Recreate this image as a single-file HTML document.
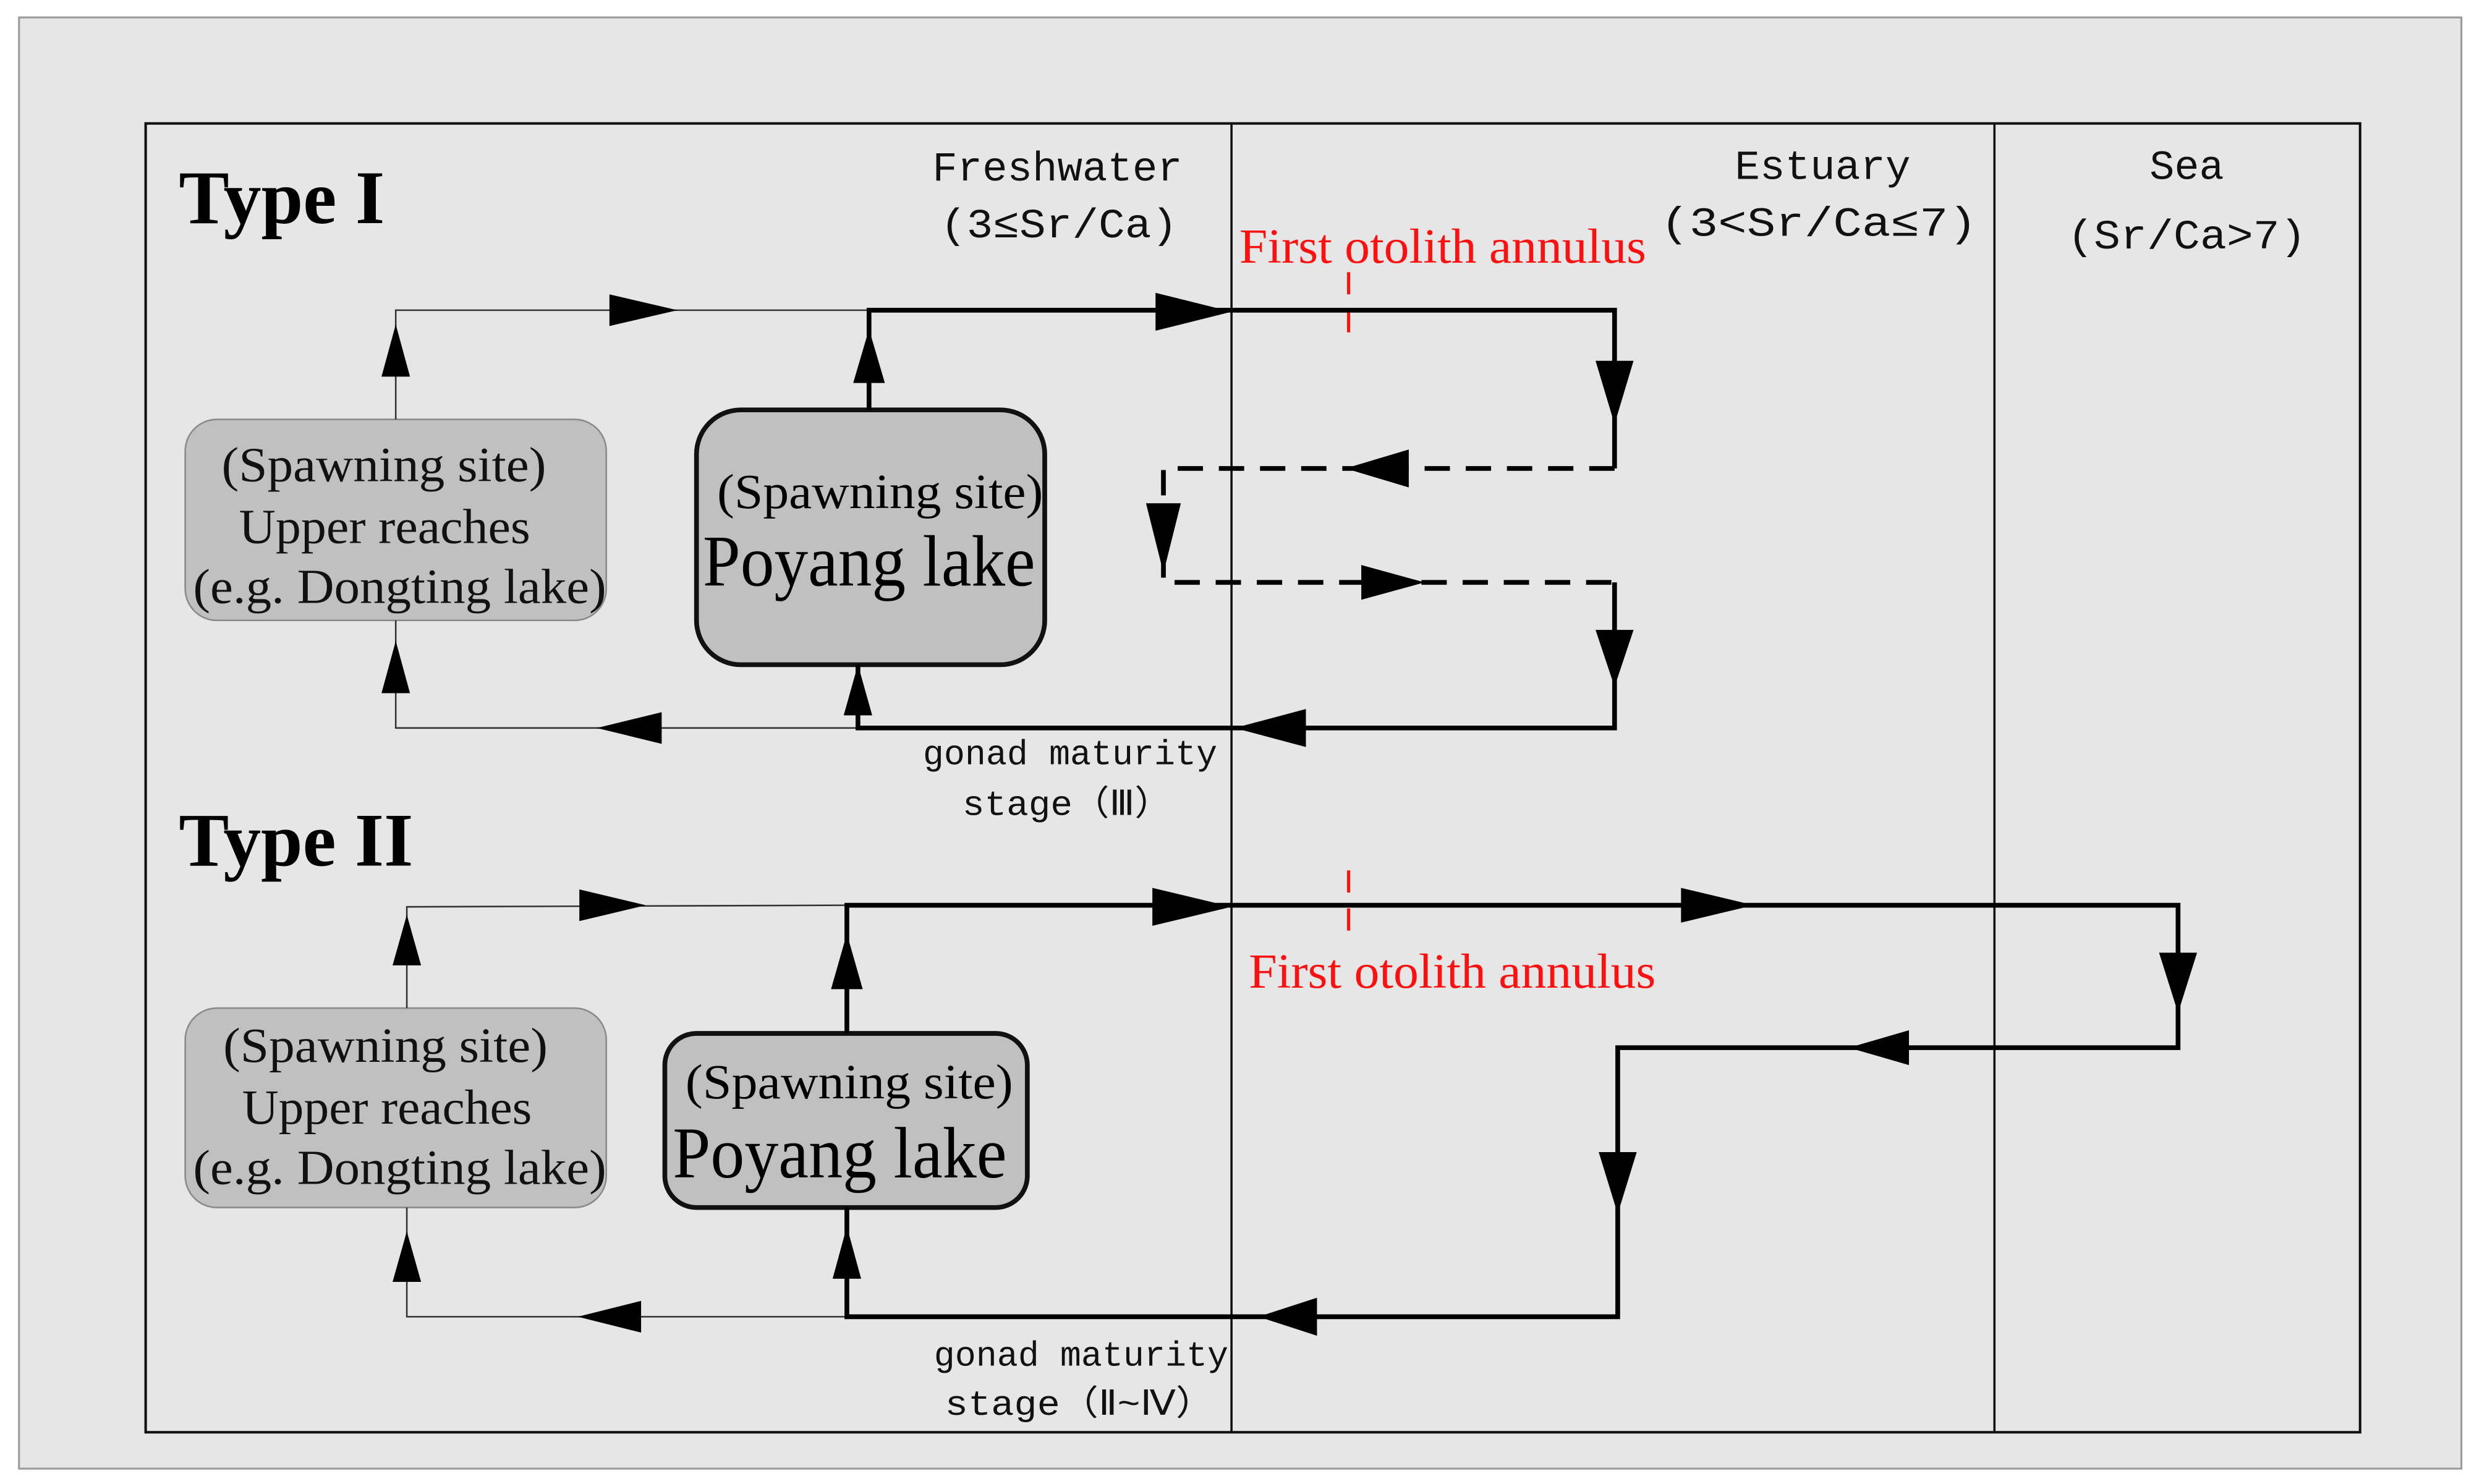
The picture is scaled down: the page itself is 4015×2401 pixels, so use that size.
<!DOCTYPE html>
<html><head><meta charset="utf-8"><style>
html,body{margin:0;padding:0;background:#fff;}
svg{display:block;}
.ser{font-family:"Liberation Serif",serif;}
.mono{font-family:"Liberation Mono","DejaVu Sans Mono",monospace;}
</style></head><body>
<svg width="4015" height="2401" viewBox="0 0 1568 937.7" xmlns="http://www.w3.org/2000/svg">
<rect x="0" y="0" width="1568" height="937.7" fill="#fff"/>
<rect x="12" y="11" width="1543" height="917" fill="#e6e6e6" stroke="#9a9a9a" stroke-width="1.2"/>
<rect x="92" y="78" width="1399" height="827" fill="none" stroke="#111" stroke-width="1.6"/>
<line x1="778" y1="78" x2="778" y2="905" stroke="#111" stroke-width="1.4"/>
<line x1="1260" y1="78" x2="1260" y2="905" stroke="#111" stroke-width="1.4"/>

<text x="113" y="141" class="ser" font-size="48" font-weight="bold" textLength="130" lengthAdjust="spacingAndGlyphs">Type I</text>
<text x="113" y="547" class="ser" font-size="48" font-weight="bold" textLength="148" lengthAdjust="spacingAndGlyphs">Type II</text>

<g class="mono" font-size="26" fill="#111" lengthAdjust="spacingAndGlyphs">
<text x="589" y="114" textLength="158" lengthAdjust="spacingAndGlyphs">Freshwater</text>
<text x="594" y="150" textLength="150" lengthAdjust="spacingAndGlyphs">(3≤Sr/Ca)</text>
<text x="1096" y="113" textLength="111" lengthAdjust="spacingAndGlyphs">Estuary</text>
<text x="1049" y="149" textLength="200" lengthAdjust="spacingAndGlyphs">(3&lt;Sr/Ca≤7)</text>
<text x="1358" y="113" textLength="47" lengthAdjust="spacingAndGlyphs">Sea</text>
<text x="1306" y="157" textLength="151" lengthAdjust="spacingAndGlyphs">(Sr/Ca&gt;7)</text>
</g>
<g class="mono" font-size="22" fill="#111">
<text x="583" y="483" textLength="186" lengthAdjust="spacingAndGlyphs">gonad maturity</text>
<text x="608" y="515" textLength="132" lengthAdjust="spacingAndGlyphs">stage（Ⅲ）</text>
<text x="590" y="863" textLength="186" lengthAdjust="spacingAndGlyphs">gonad maturity</text>
<text x="597" y="894" textLength="170" lengthAdjust="spacingAndGlyphs">stage（Ⅱ~Ⅳ）</text>
</g>

<g class="ser" font-size="31" fill="#ff1010">
<text x="783" y="166" textLength="257" lengthAdjust="spacingAndGlyphs">First otolith annulus</text>
<text x="789" y="624" textLength="257" lengthAdjust="spacingAndGlyphs">First otolith annulus</text>
</g>
<line x1="852" y1="172" x2="852" y2="218" stroke="#ff1010" stroke-width="2" stroke-dasharray="14,10"/>
<line x1="852" y1="550" x2="852" y2="596" stroke="#ff1010" stroke-width="2" stroke-dasharray="14,10"/>

<!-- boxes Type I -->
<rect x="117" y="265" width="266" height="127" rx="20" fill="#c0c0c0" stroke="#8a8a8a" stroke-width="1"/>
<g class="ser" font-size="31" fill="#111">
<text x="140" y="304" textLength="205" lengthAdjust="spacingAndGlyphs">(Spawning site)</text>
<text x="151" y="343" textLength="184" lengthAdjust="spacingAndGlyphs">Upper reaches</text>
<text x="122" y="381" textLength="261" lengthAdjust="spacingAndGlyphs">(e.g. Dongting lake)</text>
</g>
<rect x="440" y="259" width="220" height="161" rx="28" fill="#c0c0c0" stroke="#111" stroke-width="3"/>
<text x="453" y="321" class="ser" font-size="31" textLength="206" lengthAdjust="spacingAndGlyphs">(Spawning site)</text>
<text x="444" y="370" class="ser" font-size="46" textLength="210" lengthAdjust="spacingAndGlyphs">Poyang lake</text>

<!-- boxes Type II -->
<rect x="117" y="637" width="266" height="126" rx="20" fill="#c0c0c0" stroke="#8a8a8a" stroke-width="1"/>
<g class="ser" font-size="31" fill="#111">
<text x="141" y="671" textLength="205" lengthAdjust="spacingAndGlyphs">(Spawning site)</text>
<text x="153" y="710" textLength="183" lengthAdjust="spacingAndGlyphs">Upper reaches</text>
<text x="122" y="748" textLength="261" lengthAdjust="spacingAndGlyphs">(e.g. Dongting lake)</text>
</g>
<rect x="420" y="653" width="229" height="110" rx="20" fill="#c0c0c0" stroke="#111" stroke-width="3"/>
<text x="433" y="694" class="ser" font-size="31" textLength="207" lengthAdjust="spacingAndGlyphs">(Spawning site)</text>
<text x="425" y="744" class="ser" font-size="46" textLength="211" lengthAdjust="spacingAndGlyphs">Poyang lake</text>

<g fill="none" stroke="#333" stroke-width="1">
<polyline points="250,265 250,196 549,196"/>
<polyline points="542,460 250,460 250,392"/>
<polyline points="257,637 257,573 535,572"/>
<polyline points="535,832 257,832 257,763"/>
</g>
<g fill="none" stroke="#000" stroke-width="3">
<polyline points="549,259 549,196 1020,196 1020,296"/>
<polyline points="1020,368 1020,460 542,460 542,420"/>
<polyline points="535,653 535,572 1376,572 1376,662 1022,662 1022,832 535,832 535,763"/>
</g>
<g fill="none" stroke="#000" stroke-width="3" stroke-dasharray="16,10">
<polyline points="1020,296 735,296 735,368 1020,368"/>
</g>

<g fill="#000">
<polygon points="250,205 241,238 259,238"/>
<polygon points="428,196 385,186 385,206"/>
<polygon points="377,460 418,450 418,470"/>
<polygon points="250,405 241,438 259,438"/>
<polygon points="549,208 539,242 559,242"/>
<polygon points="778,197 730,185 730,209"/>
<polygon points="1020,268 1008,228 1032,228"/>
<polygon points="850,296 890,284 890,308"/>
<polygon points="735,362 724,318 746,318"/>
<polygon points="900,368 860,357 860,379"/>
<polygon points="1020,434 1008,398 1032,398"/>
<polygon points="780,460 825,448 825,472"/>
<polygon points="542,420 533,452 551,452"/>
<polygon points="257,578 248,610 266,610"/>
<polygon points="408,572 366,562 366,582"/>
<polygon points="365,832 405,822 405,842"/>
<polygon points="257,778 248,810 266,810"/>
<polygon points="535,590 525,625 545,625"/>
<polygon points="778,573 728,561 728,585"/>
<polygon points="1108,572 1062,561 1062,583"/>
<polygon points="1376,640 1364,602 1388,602"/>
<polygon points="1168,662 1206,651 1206,673"/>
<polygon points="1022,767 1010,728 1034,728"/>
<polygon points="795,832 832,820 832,844"/>
<polygon points="535,775 526,808 544,808"/>
</g>
</svg>
</body></html>
